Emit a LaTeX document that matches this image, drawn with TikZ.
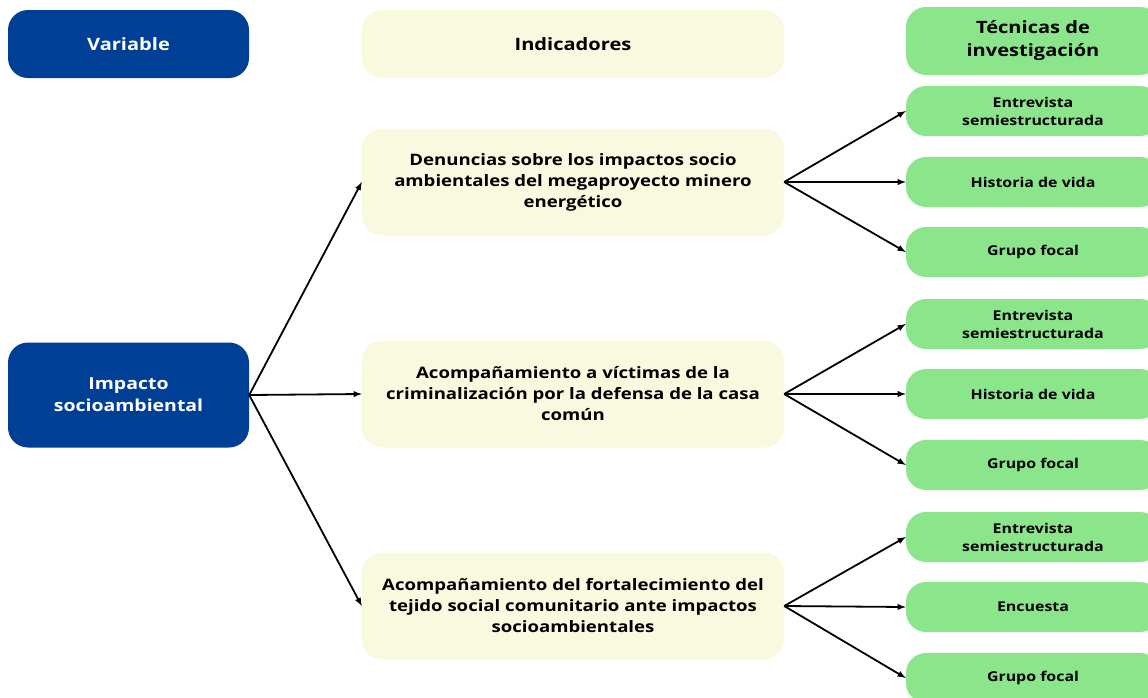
\documentclass[tikz,border=0pt]{standalone}
\usepackage{fontspec}
\setmainfont{Open Sans}[FakeStretch=1.18]
\usetikzlibrary{arrows}

\definecolor{azul}{RGB}{0,63,150}
\definecolor{crema}{RGB}{248,249,223}
\definecolor{verde}{RGB}{139,229,139}

\tikzset{
	caja/.style={rounded corners=20pt, align=center, inner sep=0pt},
	varcaja/.style={caja, fill=azul, text=white, minimum width=241pt},
	indcaja/.style={caja, fill=crema, minimum width=422pt},
	teccaja/.style={caja, fill=verde, minimum width=254pt},
	titulo/.style={font=\fontsize{17}{23}\selectfont\bfseries},
	medio/.style={font=\fontsize{15.75}{21}\selectfont\bfseries},
	chico/.style={font=\fontsize{13.5}{18}\selectfont\bfseries},
	flecha/.style={->, line width=1.8pt}
}

\begin{document}
\begin{tikzpicture}[x=1pt,y=-1pt,>=latex]
	\useasboundingbox (0,0) rectangle (1148,697);
	\clip (0,0) rectangle (1148,697);
	%Encabezados
	\node [varcaja, titulo, minimum height=68pt] (var) at (128.5,44) {Variable};
	\node [indcaja, titulo, minimum height=68pt] (ind) at (573,44) {Indicadores};
	\node [teccaja, titulo, minimum height=68pt] (tec) at (1033,41) {Técnicas de\\investigación};
	%Variable
	\node [varcaja, font=\fontsize{16.5}{22}\selectfont\bfseries, minimum height=105pt] (imp) at (128.5,395) {Impacto\\socioambiental};
	%Indicadores
	\node [indcaja, medio, minimum height=107pt] (d1) at (573,182) {Denuncias sobre los impactos socio\\ambientales del megaproyecto minero\\energético};
	\node [indcaja, medio, minimum height=107pt] (d2) at (573,394) {Acompañamiento a víctimas de la\\criminalización por la defensa de la casa\\común};
	\node [indcaja, medio, minimum height=107pt] (d3) at (573,606) {Acompañamiento del fortalecimiento del\\tejido social comunitario ante impactos\\socioambientales};
	%Tecnicas
	\node [teccaja, chico, minimum height=50pt] (e1) at (1033,111) {Entrevista\\semiestructurada};
	\node [teccaja, chico, minimum height=50pt] (h1) at (1033,182) {Historia de vida};
	\node [teccaja, chico, minimum height=50pt] (g1) at (1033,252) {Grupo focal};
	\node [teccaja, chico, minimum height=50pt] (e2) at (1033,324) {Entrevista\\semiestructurada};
	\node [teccaja, chico, minimum height=50pt] (h2) at (1033,394) {Historia de vida};
	\node [teccaja, chico, minimum height=50pt] (g2) at (1033,465) {Grupo focal};
	\node [teccaja, chico, minimum height=50pt] (e3) at (1033,537) {Entrevista\\semiestructurada};
	\node [teccaja, chico, minimum height=50pt] (en) at (1033,607) {Encuesta};
	\node [teccaja, chico, minimum height=50pt] (g3) at (1033,678) {Grupo focal};
	%Conexiones
	\draw [flecha] (imp.east) -- (d1.west);
	\draw [flecha] (imp.east) -- (d2.west);
	\draw [flecha] (imp.east) -- (d3.west);
	\draw [flecha] (d1.east) -- (e1.west);
	\draw [flecha] (d1.east) -- (h1.west);
	\draw [flecha] (d1.east) -- (g1.west);
	\draw [flecha] (d2.east) -- (e2.west);
	\draw [flecha] (d2.east) -- (h2.west);
	\draw [flecha] (d2.east) -- (g2.west);
	\draw [flecha] (d3.east) -- (e3.west);
	\draw [flecha] (d3.east) -- (en.west);
	\draw [flecha] (d3.east) -- (g3.west);
\end{tikzpicture}
\end{document}
